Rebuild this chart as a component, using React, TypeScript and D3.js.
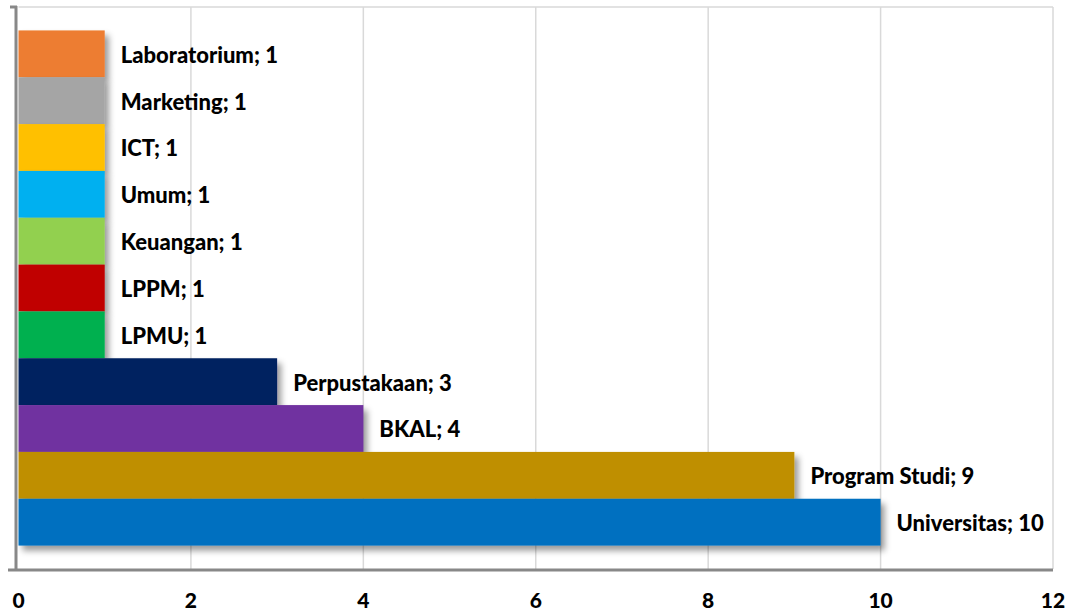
import React from "react";
import * as d3 from "d3";

const categories = ["Laboratorium", "Marketing", "ICT", "Umum", "Keuangan", "LPPM", "LPMU", "Perpustakaan", "BKAL", "Program Studi", "Universitas"];
const values = [1, 1, 1, 1, 1, 1, 1, 3, 4, 9, 10];
const barColors = ["#ED7D31", "#A5A5A5", "#FFC000", "#00B0F0", "#92D050", "#C00000", "#00B050", "#002060", "#7030A0", "#BF8F00", "#0070C0"];
const xTicks = [0, 2, 4, 6, 8, 10, 12];

const W = 1073;
const H = 614;
const left = 18.5;
const right = 1053;
const top = 7;
const bottom = 569;
const FONT = "Lato, 'Open Sans', sans-serif";

export default function App() {
  const x = d3.scaleLinear().domain([0, 12]).range([left, right]);
  const y = d3.scaleBand<string>().domain(categories).range([top, bottom]).paddingInner(0).paddingOuter(0.5);
  return (
    <svg width={W} height={H} style={{ position: "absolute", left: 0, top: 0, background: "#fff" }}>
      <defs>
        <filter id="shadow" x="-5%" y="-20%" width="120%" height="160%">
          <feDropShadow dx="4" dy="5" stdDeviation="3" floodColor="#000" floodOpacity="0.4" />
        </filter>
      </defs>
      <line x1={left} x2={right} y1={top} y2={top} stroke="#d9d9d9" strokeWidth={1.5} />
      {xTicks.filter((t) => t > 0).map((t) => (
        <line key={t} x1={x(t)} x2={x(t)} y1={top} y2={bottom} stroke="#d9d9d9" strokeWidth={1.5} />
      ))}
      {categories.map((c, i) => (
        <rect key={c} x={x(0)} y={y(c)!} width={x(values[i]) - x(0)} height={y.bandwidth()} fill={barColors[i]} filter="url(#shadow)" />
      ))}
      {categories.map((c, i) => (
        <text key={c} x={x(values[i]) + 16} y={y(c)! + y.bandwidth() / 2 + 1} dy="0.36em" fontFamily={FONT} fontWeight={900} fontSize={22} fill="#000">
          {`${c}; ${values[i]}`}
        </text>
      ))}
      <line x1={16} x2={16} y1={6} y2={bottom + 1.5} stroke="#888" strokeWidth={3} />
      <line x1={10} x2={17} y1={7} y2={7} stroke="#888" strokeWidth={3} />
      <line x1={8} x2={right} y1={bottom + 1} y2={bottom + 1} stroke="#888" strokeWidth={3} />
      {xTicks.map((t) => (
        <text key={t} x={x(t)} y={600} dy="0.36em" textAnchor="middle" fontFamily={FONT} fontWeight={900} fontSize={21} fill="#000">
          {t}
        </text>
      ))}
    </svg>
  );
}
